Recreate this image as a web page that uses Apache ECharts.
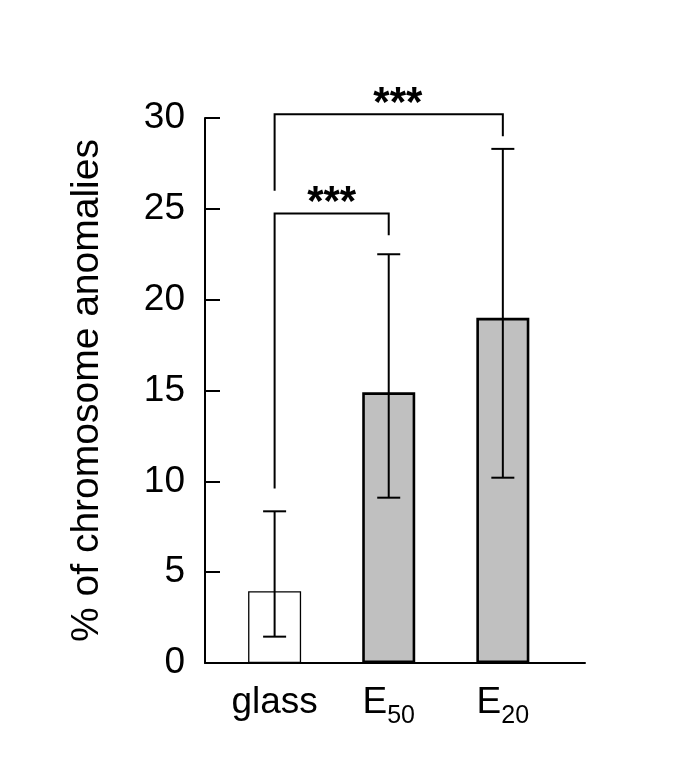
<!DOCTYPE html>
<html>
<head>
<meta charset="utf-8">
<script src="https://cdn.jsdelivr.net/npm/echarts@6/dist/echarts.min.js"></script>
<style>
  html, body { margin: 0; padding: 0; background: #fff; }
  #chart { width: 680px; height: 778px; }
</style>
</head>
<body>
<div id="chart"></div>
<script>
// ---- data ----
const labelMain = ['glass', 'E', 'E'];
const labelSub = ['', '50', '20'];
const xPositions = [1, 2, 3];
const means = [3.95, 14.9, 19.0];
const errLow = [1.45, 9.1, 10.2];
const errHigh = [8.35, 22.5, 28.3];
const yTicks = [0, 5, 10, 15, 20, 25, 30];

const bracketFrom = [1, 1];
const bracketTo = [2, 3];
const bracketTop = [24.75, 30.2];
const bracketLeftEnd = [9.6, 26.0];
const bracketRightEnd = [23.55, 29.0];
const bracketLabelX = [1.5, 2.08];
const bracketLabels = ['***', '***'];

const FONT = '"Liberation Sans", Arial, Helvetica, sans-serif';

const chart = echarts.init(document.getElementById('chart'), null, { renderer: 'canvas' });

const barData = xPositions.map((x, i) => ({
  value: [x, means[i]],
  itemStyle: i === 0
    ? { color: '#ffffff', borderColor: '#000', borderWidth: 1.3 }
    : { color: '#c0c0c0', borderColor: '#000', borderWidth: 2.6 }
}));

const errData = xPositions.map((x, i) => [x, errLow[i], errHigh[i]]);
const bracketData = bracketFrom.map((f, i) => [f, bracketTo[i], bracketTop[i], bracketLeftEnd[i], bracketRightEnd[i], bracketLabelX[i], i]);

const option = {
  animation: false,
  backgroundColor: '#fff',
  grid: { left: 205, right: 95, top: 118, bottom: 115 },
  xAxis: {
    type: 'value',
    min: 0.39,
    max: 3.72,
    splitLine: { show: false },
    axisTick: { show: false },
    axisLine: { show: true, lineStyle: { color: '#000', width: 2 } },
    axisLabel: {
      customValues: xPositions,
      margin: 13,
      color: '#000',
      formatter: function (v) {
        const i = xPositions.indexOf(Math.round(v));
        if (i < 0) return '';
        return labelSub[i] ? '{m|' + labelMain[i] + '}{s|' + labelSub[i] + '}' : '{m|' + labelMain[i] + '}';
      },
      rich: {
        m: { fontSize: 37, fontFamily: FONT, color: '#000', lineHeight: 54 },
        s: { fontSize: 25, fontFamily: FONT, color: '#000', padding: [27, 0, 0, 0] }
      }
    }
  },
  yAxis: {
    type: 'value',
    min: 0,
    max: 30,
    interval: 5,
    name: '% of chromosome anomalies',
    nameLocation: 'middle',
    nameRotate: 90,
    nameGap: 98,
    nameTextStyle: { fontSize: 39, fontFamily: FONT, color: '#000' },
    splitLine: { show: false },
    axisLine: { show: true, lineStyle: { color: '#000', width: 2 } },
    axisTick: { show: true, inside: true, length: 15, lineStyle: { color: '#000', width: 2 } },
    axisLabel: {
      fontSize: 37, fontFamily: FONT, color: '#000', margin: 20,
      customValues: yTicks
    }
  },
  series: [
    {
      type: 'bar',
      data: barData,
      barWidth: 53,
      z: 2
    },
    {
      type: 'custom',
      z: 3,
      data: errData,
      renderItem: function (params, api) {
        const x = api.value(0);
        const lo = api.coord([x, api.value(1)]);
        const hi = api.coord([x, api.value(2)]);
        const hw = 11.5;
        const st = { stroke: '#000', lineWidth: 2 };
        return {
          type: 'group',
          children: [
            { type: 'line', shape: { x1: lo[0], y1: lo[1], x2: hi[0], y2: hi[1] }, style: st },
            { type: 'line', shape: { x1: lo[0] - hw, y1: lo[1], x2: lo[0] + hw, y2: lo[1] }, style: st },
            { type: 'line', shape: { x1: hi[0] - hw, y1: hi[1], x2: hi[0] + hw, y2: hi[1] }, style: st }
          ]
        };
      }
    },
    {
      type: 'custom',
      z: 3,
      clip: false,
      data: bracketData,
      renderItem: function (params, api) {
        const x1 = api.value(0), x2 = api.value(1), yt = api.value(2);
        const pTL = api.coord([x1, yt]);
        const pTR = api.coord([x2, yt]);
        const pBL = api.coord([x1, api.value(3)]);
        const pBR = api.coord([x2, api.value(4)]);
        const pLab = api.coord([api.value(5), yt]);
        const st = { stroke: '#000', lineWidth: 2, fill: null };
        return {
          type: 'group',
          children: [
            { type: 'polyline', shape: { points: [pBL, pTL, pTR, pBR] }, style: st },
            {
              type: 'text',
              style: {
                x: pLab[0], y: pLab[1] - 10,
                text: bracketLabels[api.value(6)],
                font: 'bold 42px ' + FONT,
                fill: '#000',
                textAlign: 'center',
                textVerticalAlign: 'middle'
              }
            }
          ]
        };
      }
    }
  ]
};

chart.setOption(option);
</script>
</body>
</html>
